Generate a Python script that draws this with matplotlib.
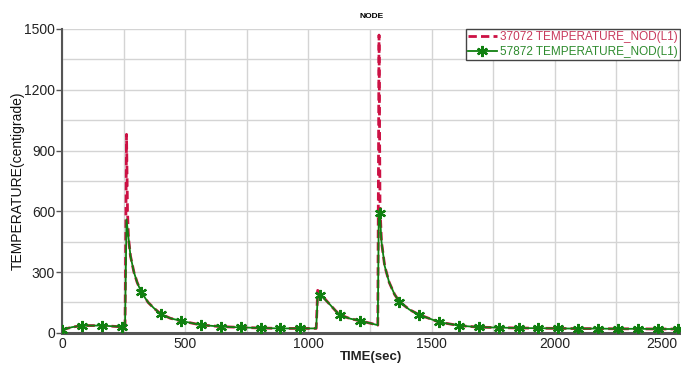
import numpy as np
import matplotlib.pyplot as plt
from matplotlib.ticker import MultipleLocator

plt.rcParams['font.family'] = ['Liberation Sans', 'DejaVu Sans']

# node 37072 (red, dashed)
t_red = [0, 40, 81, 161, 242, 256, 262, 266, 270, 278, 292, 305, 322, 350, 375, 403, 440, 484,
         564, 645, 725, 806, 887, 967, 1032, 1038, 1048, 1080, 1110, 1128, 1170, 1209, 1260, 1282,
         1287, 1291, 1297, 1310, 1328, 1350, 1370, 1410, 1451, 1531, 1612, 1693, 1773, 1854, 1934,
         2015, 2096, 2176, 2257, 2337, 2418, 2499]
temp_red = [15, 28, 36, 36, 30, 30, 980, 600, 470, 380, 300, 250, 200, 150, 120, 92, 72, 59,
            39, 31, 27, 24, 22, 22, 22, 210, 195, 150, 110, 89, 70, 60, 45, 38,
            1470, 620, 450, 330, 250, 190, 154, 115, 89, 53, 36, 28, 26, 24, 23,
            22, 21, 21, 20, 20, 19, 19]

# node 57872 (green, solid with markers)
t_grn = [0, 40, 81, 161, 242, 256, 262, 270, 278, 292, 305, 322, 350, 375, 403, 440, 484,
         564, 645, 725, 806, 887, 967, 1032, 1038, 1048, 1080, 1110, 1128, 1170, 1209, 1260, 1282,
         1286, 1290, 1297, 1310, 1328, 1350, 1370, 1410, 1451, 1531, 1612, 1693, 1773, 1854, 1934,
         2015, 2096, 2176, 2257, 2337, 2418, 2499]
temp_grn = [15, 28, 36, 36, 30, 30, 560, 470, 380, 300, 250, 200, 150, 120, 92, 72, 59,
            39, 31, 27, 24, 22, 22, 22, 180, 187, 150, 110, 89, 70, 60, 45, 38,
            600, 594, 450, 330, 250, 190, 154, 115, 89, 53, 36, 28, 26, 24, 23,
            22, 21, 21, 20, 20, 19, 19]

# sample times that carry a marker on the green curve
marker_times = [0, 81, 161, 242, 322, 403, 484, 564, 645, 725, 806, 887, 967, 1048, 1128, 1209,
                1290, 1370, 1451, 1531, 1612, 1693, 1773, 1854, 1934, 2015, 2096, 2176, 2257,
                2337, 2418, 2499]

x_ticks = [0, 500, 1000, 1500, 2000, 2500]
labels = ['37072 TEMPERATURE_NOD(L1)', '57872 TEMPERATURE_NOD(L1)']
red = '#cc1144'
green = '#108010'

fig = plt.figure(figsize=(6.81, 3.67), dpi=100)
ax = fig.add_axes([0.091, 0.093, 0.908, 0.828])

ax.plot(t_red, temp_red, color=red, lw=2.0, ls=(0, (3, 1.5)), label=labels[0], zorder=3)
mask = np.isin(t_grn, marker_times)
ax.plot(t_grn, temp_grn, color=green, lw=1.3, marker=(6, 2, 0), ms=8, mew=1.6,
        markevery=list(np.where(mask)[0]), label=labels[1], zorder=4)

ax.set_xlim(0, 2510)
ax.set_ylim(0, 1500)
ax.set_xticks(x_ticks)
xl = ax.set_xticklabels([str(v) for v in x_ticks])
xl[-1].set_ha('right')
ax.xaxis.set_minor_locator(MultipleLocator(250))
ax.yaxis.set_major_locator(MultipleLocator(300))
ax.yaxis.set_minor_locator(MultipleLocator(150))
ax.grid(which='both', color='#d4d4d4', lw=1)
ax.set_axisbelow(True)

for s in ['top', 'right']:
    ax.spines[s].set_visible(False)
ax.spines['left'].set_color('#555555')
ax.spines['bottom'].set_color('#555555')
ax.spines['left'].set_linewidth(1.5)
ax.spines['bottom'].set_linewidth(2.2)
ax.tick_params(which='minor', length=0)
ax.tick_params(axis='y', length=4, width=1, color='#555555', labelsize=10, pad=1, labelcolor='#222222')
ax.tick_params(axis='x', length=0, labelsize=10, pad=3, labelcolor='#222222')

ax.set_xlabel('TIME(sec)', fontsize=9.5, fontweight='bold', color='#222222', labelpad=0)
ax.set_ylabel('TEMPERATURE(centigrade)', fontsize=10, color='#111111')
ax.yaxis.set_label_coords(-0.06, 0.5)
ax.set_title('NODE', fontsize=6, fontweight='bold', pad=8)

leg = ax.legend(loc='upper right', fontsize=8.5, borderaxespad=0, handlelength=2.4,
                handletextpad=0.3, borderpad=0.2, labelspacing=0.2, fancybox=False,
                framealpha=1, edgecolor='#444444')
leg.get_frame().set_linewidth(1)
for txt, c in zip(leg.get_texts(), ['#c83a5c', '#2e8b2e']):
    txt.set_color(c)

fig.savefig('out.png', dpi=100)
